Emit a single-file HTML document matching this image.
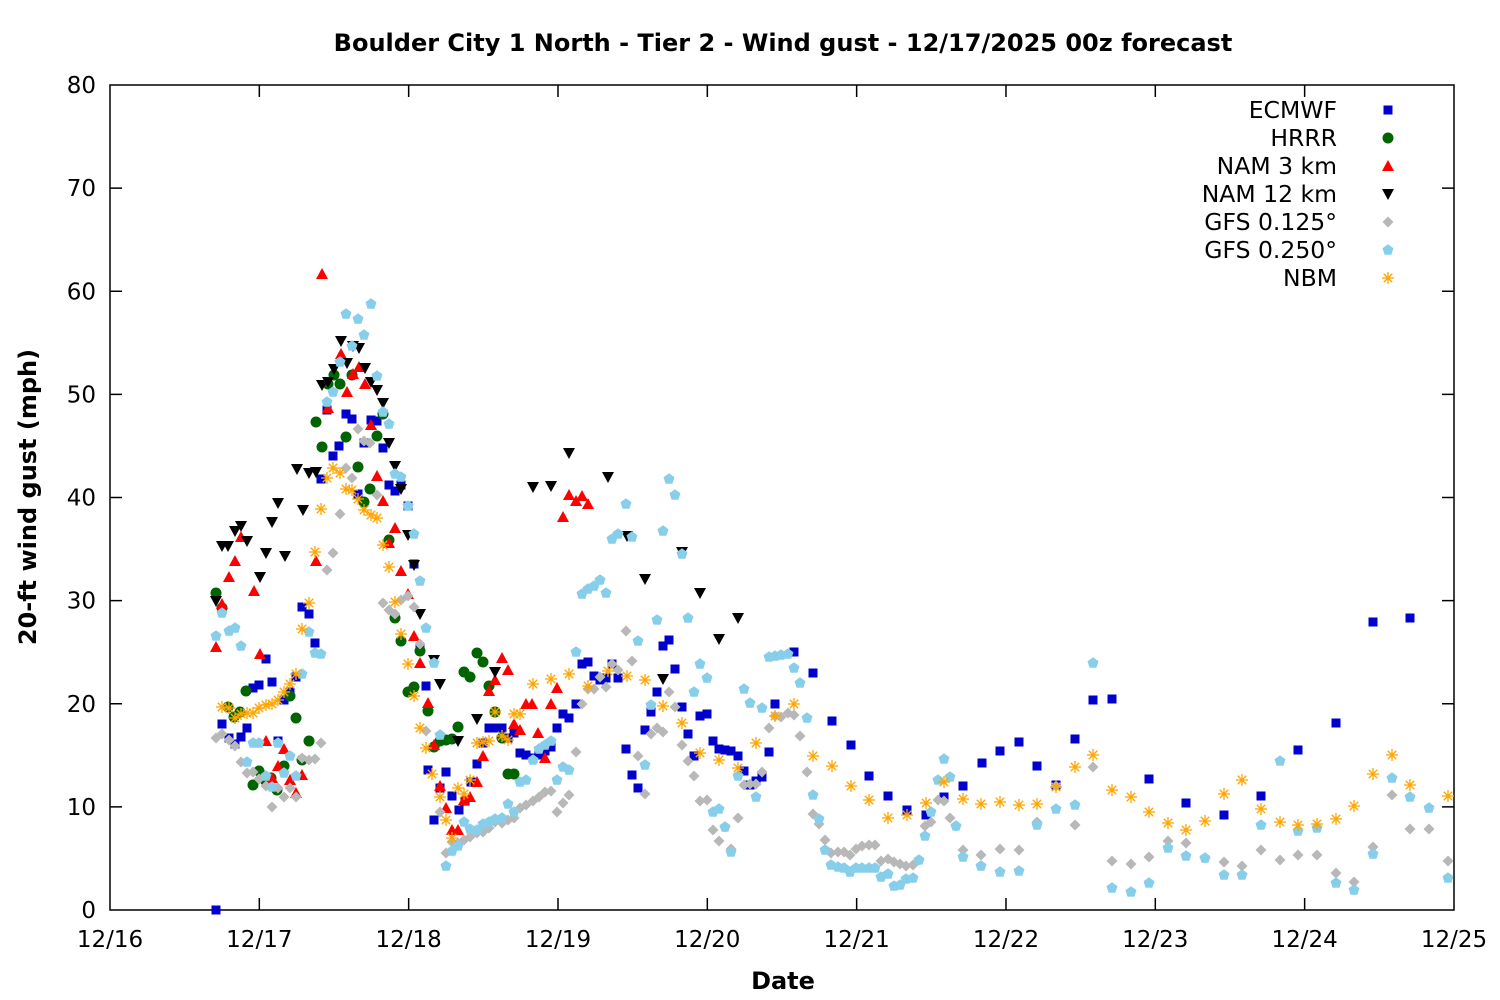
<!DOCTYPE html>
<html><head><meta charset="utf-8"><style>
html,body{margin:0;padding:0;background:#fff}
svg{display:block}
text{font-family:"DejaVu Sans","Liberation Sans",sans-serif;fill:#000}
</style></head><body>
<svg id="s" width="1500" height="1000" xmlns="http://www.w3.org/2000/svg">
<rect width="1500" height="1000" fill="#fff"/>
<text x="783" y="51" font-size="24" font-weight="bold" text-anchor="middle">Boulder City 1 North - Tier 2 - Wind gust - 12/17/2025 00z forecast</text>
<text x="783" y="989" font-size="24" font-weight="bold" text-anchor="middle">Date</text>
<text transform="translate(36,497) rotate(-90)" font-size="24" font-weight="bold" text-anchor="middle">20-ft wind gust (mph)</text>
<g id="ax" stroke="#000" stroke-width="1.5" fill="none"></g>
<g id="lab" font-size="23"></g>
<g id="pts"></g>
<g id="leg" font-size="23.5"></g>
</svg>
<script>
var NS="http://www.w3.org/2000/svg";
function el(p,t,a,txt){var e=document.createElementNS(NS,t);for(var k in a)e.setAttribute(k,a[k]);if(txt!==undefined)e.textContent=txt;p.appendChild(e);return e;}
var ax=document.getElementById('ax'),lab=document.getElementById('lab');
el(ax,'rect',{x:110,y:85,width:1344,height:825});
for(var i=0;i<=8;i++){var y=910-i*103.125;
 if(i>0&&i<8){el(ax,'line',{x1:110,y1:y,x2:122,y2:y});el(ax,'line',{x1:1454,y1:y,x2:1442,y2:y});}
 el(lab,'text',{x:96,y:y+8,'text-anchor':'end'},String(i*10));}
for(var d=0;d<=9;d++){var x=110+d*149.33;
 if(d>0&&d<9){el(ax,'line',{x1:x,y1:910,x2:x,y2:898});el(ax,'line',{x1:x,y1:85,x2:x,y2:97});}
 el(lab,'text',{x:x,y:947,'text-anchor':'middle'},'12/'+(16+d));}
var P=document.getElementById('pts');
function sq(g,x,y,c){el(g,'rect',{x:x-4.5,y:y-4.5,width:9,height:9,fill:c});}
function ci(g,x,y,c){el(g,'circle',{cx:x,cy:y,r:5.5,fill:c});}
function tu(g,x,y,c){el(g,'polygon',{points:(x-6)+','+(y+5)+' '+(x+6)+','+(y+5)+' '+x+','+(y-6),fill:c});}
function td(g,x,y,c){el(g,'polygon',{points:(x-6)+','+(y-5)+' '+(x+6)+','+(y-5)+' '+x+','+(y+6),fill:c});}
function di(g,x,y,c){el(g,'polygon',{points:x+','+(y-5.5)+' '+(x+5.5)+','+y+' '+x+','+(y+5.5)+' '+(x-5.5)+','+y,fill:c});}
function pe(g,x,y,c){var p=[];for(var k=0;k<5;k++){var a=-Math.PI/2+k*2*Math.PI/5;p.push((x+5.8*Math.cos(a)).toFixed(1)+','+(y+5.8*Math.sin(a)).toFixed(1));}el(g,'polygon',{points:p.join(' '),fill:c});}
function st(g,x,y,c){var s=6;[[0,1],[1,0],[0.707,0.707],[0.707,-0.707]].forEach(function(v){el(g,'line',{x1:x-s*v[0],y1:y-s*v[1],x2:x+s*v[0],y2:y+s*v[1],stroke:c,'stroke-width':1.3});});}
function draw(f,c,s){var a=s.trim().split(/\s+/);for(var i=0;i+1<a.length;i+=2)f(P,+a[i],+a[i+1],c);}
draw(sq,'#0000cc',"216 910 222 724 229 738 235 744 241 737 247 728 253 688 259 685 266 659 272 682 278 741 284 700 290 692 296 677 302 607 309 614 315 643 321 479 327 410 333 456 339 446 346 414 352 419 358 494 364 443 371 420 377 421 383 448 389 485 395 491 401 485 408 506 414 564 420 648 426 686 428 770 434 820 440 788 446 772 452 796 459 810 465 801 471 782 477 764 483 743 489 728 495 728 502 728 508 738 514 733 520 753 526 755 533 758 539 755 545 751 551 747 557 728 563 714 569 718 576 704 582 664 588 662 594 676 600 680 606 678 612 664 618 678 626 749 632 775 638 788 645 730 651 712 657 692 663 646 669 640 675 669 682 707 688 734 694 756 700 716 707 714 713 741 719 749 725 750 731 751 738 756 744 771 750 785 756 781 762 777 769 752 775 704 794 652 813 673 832 721 851 745 869 776 888 796 907 810 926 815 944 797 963 786 982 763 1000 751 1019 742 1037 766 1056 785 1075 739 1093 700 1112 699 1149 779 1186 803 1224 815 1261 796 1298 750 1336 723 1373 622 1410 618");
draw(ci,'#006400',"216 593 222 608 228 707 234 717 240 712 246 691 253 785 259 771 265 780 271 778 277 790 284 766 290 696 296 718 302 760 309 741 316 422 322 447 328 384 334 375 340 384 346 437 352 375 358 467 364 502 370 489 377 436 383 414 389 540 395 618 401 641 408 692 414 687 420 651 428 711 434 747 440 741 446 740 452 739 458 727 464 672 470 677 477 653 483 662 489 686 495 712 502 738 508 774 514 774");
draw(tu,'#ff0000',"216 647 222 604 229 577 235 561 241 537 254 591 260 654 266 741 272 778 278 766 284 749 290 780 296 793 302 775 316 561 322 274 328 408 341 354 347 392 353 374 359 367 365 384 371 425 377 476 383 501 389 543 395 528 401 571 408 594 414 636 420 663 428 703 434 745 440 786 446 808 452 830 458 830 464 800 470 797 477 782 483 756 489 691 495 680 502 658 508 670 514 724 520 730 526 704 532 704 538 733 545 758 551 704 557 688 563 517 569 495 576 501 582 496 588 504");
draw(td,'#000000',"216 601 222 546 228 546 235 531 241 526 247 541 260 577 266 553 272 522 278 503 285 556 297 469 303 510 309 473 316 472 322 385 328 382 334 369 341 341 347 363 353 346 359 348 365 368 371 382 377 390 383 403 389 443 395 466 401 489 408 535 414 565 420 614 434 660 440 684 458 741 477 719 495 672 533 487 551 486 569 453 608 477 627 536 645 579 663 679 682 552 700 593 719 639 738 618");
draw(di,'#b8b8b8',"216 738 222 734 229 740 235 746 241 762 247 773 253 772 259 779 266 786 272 807 278 788 284 797 290 788 296 797 302 758 309 760 315 759 321 743 327 570 333 553 340 514 346 468 352 478 358 429 364 441 370 443 377 495 383 603 389 610 395 614 401 600 408 596 414 607 420 644 426 731 440 812 446 853 452 842 458 843 464 840 470 837 477 833 483 832 489 828 495 822 502 823 508 820 514 818 520 808 526 805 533 801 539 797 545 792 551 791 557 812 563 803 569 795 576 752 582 704 588 689 594 689 600 677 606 687 612 664 618 670 626 631 632 661 638 756 645 794 651 734 657 728 663 732 669 692 675 707 682 745 688 761 694 776 700 801 707 800 713 830 719 841 725 827 731 849 738 818 744 785 750 784 756 784 762 772 769 728 775 716 781 717 788 713 794 715 800 736 807 772 813 814 819 824 825 840 831 853 838 852 844 852 850 855 856 849 862 846 869 845 875 845 881 861 888 859 894 862 900 864 906 866 913 865 919 860 925 826 931 822 938 800 944 801 950 818 956 826 963 850 981 855 1000 849 1019 850 1037 822 1056 786 1075 825 1093 767 1112 861 1131 864 1149 857 1168 841 1186 843 1205 858 1224 862 1242 866 1261 850 1280 860 1298 855 1317 855 1336 873 1354 882 1373 847 1392 795 1410 829 1429 829 1448 861");
draw(pe,'#87ceeb',"216 636 222 613 229 631 235 628 241 646 247 762 253 743 259 743 266 776 272 787 278 743 284 773 290 756 296 776 302 674 309 632 315 653 321 654 327 402 333 392 340 362 346 314 352 346 358 319 364 335 371 304 377 376 383 412 389 424 395 474 401 477 408 506 414 534 420 581 426 628 434 663 440 735 446 866 452 851 458 846 464 822 470 829 477 830 483 824 489 822 495 819 502 818 508 804 514 812 520 782 526 780 533 760 539 749 545 745 551 741 557 780 563 767 569 770 576 652 582 594 588 589 594 586 600 580 606 593 612 539 618 534 626 504 632 537 638 641 645 765 651 705 657 620 663 531 669 479 675 495 682 554 688 618 694 692 700 664 707 678 713 812 719 809 725 827 731 852 738 776 744 689 750 703 756 797 762 708 769 657 775 656 781 655 788 654 794 668 800 683 807 718 813 795 819 819 825 850 831 865 838 867 844 868 850 872 856 868 862 868 869 868 875 868 881 877 888 874 894 886 900 885 906 879 913 878 919 860 925 836 931 812 938 780 944 759 950 777 956 826 963 857 981 866 1000 872 1019 871 1037 825 1056 809 1075 805 1093 663 1112 888 1131 892 1149 883 1168 848 1186 856 1205 858 1224 875 1242 875 1261 825 1280 761 1298 831 1317 828 1336 883 1354 890 1373 854 1392 778 1410 797 1429 808 1448 878");
draw(st,'#ffa500',"222 707 229 708 235 718 241 714 247 713 253 713 259 708 266 705 272 704 278 700 284 692 290 684 296 674 302 629 309 603 315 552 321 509 327 478 333 468 340 473 346 489 352 490 358 499 364 510 371 515 377 518 383 545 389 567 395 602 401 634 408 664 414 696 420 728 426 748 432 774 440 797 446 820 452 838 458 788 464 794 470 780 477 743 483 742 489 741 495 712 502 736 508 740 514 714 520 714 533 684 551 679 569 674 588 686 608 671 627 676 645 680 663 706 682 723 700 753 719 760 738 768 756 743 775 716 794 704 813 756 832 766 851 786 869 800 888 818 907 815 926 803 944 782 963 799 981 804 1000 802 1019 805 1037 804 1056 787 1075 767 1093 755 1112 790 1131 797 1149 812 1168 823 1186 830 1205 821 1224 794 1242 780 1261 809 1280 822 1298 825 1317 824 1336 819 1354 806 1373 774 1392 755 1410 785 1448 796");
var L=document.getElementById('leg');
var items=[['ECMWF',sq,'#0000cc'],['HRRR',ci,'#006400'],['NAM 3 km',tu,'#ff0000'],['NAM 12 km',td,'#000000'],['GFS 0.125°',di,'#b8b8b8'],['GFS 0.250°',pe,'#87ceeb'],['NBM',st,'#ffa500']];
items.forEach(function(it,i){var y=110+i*28;el(L,'rect',{x:1190,y:y-13,width:150,height:26,fill:'#fff'});el(L,'text',{x:1337,y:y+8,'text-anchor':'end'},it[0]);it[1](L,1388,y,it[2]);});
</script>
</body></html>
